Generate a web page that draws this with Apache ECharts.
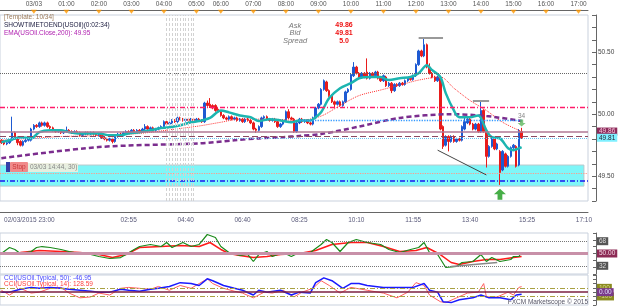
<!DOCTYPE html>
<html>
<head>
<meta charset="utf-8">
<script src="https://cdn.jsdelivr.net/npm/echarts@6/dist/echarts.min.js"></script>
<style>
html,body{margin:0;padding:0;background:#fff;}
#chart{width:625px;height:307px;}
</style>
</head>
<body>
<div id="chart"></div>
<script>
// 5 minute bars from 02/03 23:00 to 17:15 (05:45-05:55 not traded)
var times = [];
(function(){
	var m = 23 * 60;
	while (times.length < 217) {
		var h = Math.floor(m / 60) % 24, mm = m % 60;
		if (!(h === 5 && mm >= 45)) times.push((h < 10 ? '0' : '') + h + ':' + (mm < 10 ? '0' : '') + mm);
		m += 5;
	}
})();

// [open, close, low, high]
var candles = [
	[49.79,49.77,49.76,49.80],[49.78,49.76,49.75,49.79],[49.76,49.77,49.75,49.78],[49.77,49.79,49.76,49.80],[49.79,49.85,49.78,49.98],
	[49.85,49.81,49.80,49.86],[49.81,49.77,49.75,49.82],[49.78,49.75,49.74,49.79],[49.75,49.78,49.74,49.79],[49.78,49.79,49.77,49.80],
	[49.79,49.80,49.78,49.81],[49.79,49.88,49.78,49.89],[49.88,49.91,49.87,49.92],[49.91,49.90,49.89,49.92],[49.90,49.93,49.89,49.94],
	[49.93,49.91,49.90,49.94],[49.91,49.93,49.90,49.94],[49.93,49.90,49.89,49.94],[49.90,49.89,49.88,49.91],[49.89,49.87,49.86,49.90],
	[49.87,49.86,49.85,49.88],[49.86,49.87,49.85,49.88],[49.87,49.85,49.84,49.88],[49.85,49.86,49.84,49.87],[49.86,49.87,49.85,49.90],
	[49.87,49.86,49.85,49.88],[49.86,49.85,49.84,49.87],[49.85,49.86,49.84,49.87],[49.86,49.85,49.84,49.87],[49.85,49.83,49.82,49.86],
	[49.83,49.84,49.82,49.85],[49.84,49.85,49.83,49.86],[49.85,49.84,49.83,49.86],[49.84,49.85,49.83,49.86],[49.85,49.84,49.83,49.86],
	[49.84,49.83,49.82,49.85],[49.83,49.84,49.82,49.85],[49.84,49.81,49.80,49.85],[49.81,49.80,49.79,49.82],[49.80,49.79,49.78,49.81],
	[49.79,49.80,49.78,49.81],[49.80,49.78,49.765,49.81],[49.78,49.82,49.77,49.83],[49.82,49.84,49.81,49.85],[49.84,49.83,49.82,49.85],
	[49.83,49.85,49.82,49.86],[49.85,49.86,49.84,49.87],[49.86,49.85,49.84,49.87],[49.85,49.87,49.84,49.88],[49.87,49.86,49.85,49.88],
	[49.86,49.87,49.85,49.88],[49.87,49.86,49.85,49.88],[49.86,49.88,49.85,49.89],[49.88,49.90,49.87,49.92],[49.90,49.88,49.87,49.91],
	[49.88,49.89,49.87,49.90],[49.89,49.87,49.86,49.90],[49.87,49.88,49.86,49.89],[49.88,49.89,49.87,49.90],[49.89,49.90,49.88,49.91],
	[49.90,49.94,49.89,49.95],[49.94,49.92,49.91,49.95],[49.92,49.93,49.91,49.94],[49.93,49.95,49.92,49.96],[49.95,49.94,49.93,49.96],
	[49.94,49.97,49.93,49.98],[49.97,49.96,49.95,49.98],[49.96,49.95,49.94,49.97],[49.95,49.96,49.94,49.97],[49.96,49.95,49.94,49.97],
	[49.95,49.96,49.94,49.97],[49.96,49.95,49.94,49.97],[49.95,49.96,49.94,49.97],[49.96,49.95,49.94,49.97],[49.95,49.94,49.93,49.96],
	[49.94,50.09,49.93,50.10],[50.09,50.07,50.06,50.11],[50.08,50.06,50.05,50.13],[50.07,50.05,50.04,50.08],[50.07,50.03,50.02,50.08],
	[50.04,50.02,50.01,50.05],[50.02,49.99,49.98,50.03],[49.99,49.97,49.96,50.00],[49.97,49.96,49.95,49.98],[49.96,49.98,49.95,49.99],
	[49.98,49.96,49.95,49.99],[49.96,49.97,49.95,49.98],[49.97,49.95,49.94,49.98],[49.95,49.96,49.94,49.97],[49.96,49.94,49.93,49.97],
	[49.94,49.96,49.93,49.97],[49.96,49.95,49.94,49.97],[49.95,49.93,49.92,49.96],[49.93,49.88,49.87,49.94],[49.88,49.87,49.85,49.89],
	[49.87,49.90,49.86,49.91],[49.90,49.97,49.89,49.98],[49.97,49.98,49.96,49.99],[49.98,49.96,49.95,49.99],[49.96,49.95,49.94,49.97],
	[49.95,49.96,49.94,49.97],[49.96,49.94,49.93,49.97],[49.94,49.90,49.89,49.95],[49.90,49.92,49.89,49.93],[49.92,49.95,49.91,49.96],
	[49.95,50.02,49.94,50.03],[50.02,49.97,49.96,50.04],[49.97,49.96,49.95,49.98],[49.96,49.86,49.85,49.97],[49.86,49.93,49.85,49.94],
	[49.93,49.96,49.92,49.97],[49.96,49.94,49.93,49.97],[49.94,49.95,49.93,49.96],[49.95,49.93,49.92,49.96],[49.93,49.92,49.91,49.94],
	[49.92,49.97,49.91,49.98],[49.97,50.05,49.96,50.06],[50.05,50.08,50.04,50.09],[50.08,50.20,50.07,50.21],[50.20,50.27,50.19,50.28],
	[50.26,50.19,50.18,50.27],[50.19,50.15,50.14,50.20],[50.15,50.10,50.09,50.16],[50.10,50.08,50.05,50.11],[50.08,50.10,50.07,50.11],
	[50.10,50.07,50.06,50.11],[50.07,50.10,50.06,50.11],[50.10,50.18,50.09,50.19],[50.18,50.20,50.17,50.21],[50.20,50.32,50.19,50.33],
	[50.31,50.38,50.30,50.42],[50.38,50.33,50.32,50.39],[50.33,50.30,50.29,50.34],[50.30,50.33,50.29,50.34],[50.33,50.30,50.29,50.34],
	[50.34,50.29,50.28,50.45],[50.29,50.33,50.28,50.34],[50.33,50.31,50.30,50.34],[50.31,50.34,50.30,50.35],[50.34,50.29,50.28,50.35],
	[50.29,50.27,50.26,50.30],[50.27,50.31,50.26,50.32],[50.30,50.23,50.22,50.31],[50.23,50.25,50.22,50.26],[50.25,50.19,50.17,50.26],
	[50.19,50.24,50.18,50.25],[50.24,50.23,50.22,50.25],[50.23,50.25,50.22,50.26],[50.25,50.24,50.23,50.26],[50.24,50.27,50.23,50.28],
	[50.27,50.29,50.26,50.30],[50.29,50.28,50.27,50.30],[50.28,50.31,50.27,50.32],[50.31,50.40,50.30,50.41],[50.40,50.51,50.39,50.52],
	[50.51,50.47,50.46,50.52],[50.47,50.56,50.46,50.61],[50.56,50.38,50.37,50.57],[50.38,50.33,50.32,50.41],[50.33,50.30,50.29,50.34],
	[50.30,50.27,50.26,50.31],[50.27,50.30,50.26,50.31],[50.29,49.88,49.87,50.30],[49.90,49.74,49.72,49.91],[49.75,49.82,49.74,49.83],
	[49.82,49.78,49.70,49.83],[49.78,49.82,49.77,49.83],[49.82,49.78,49.77,49.83],[49.78,49.80,49.77,49.81],[49.80,49.79,49.78,49.81],
	[49.79,49.90,49.78,49.91],[49.88,49.94,49.87,49.97],[49.93,49.96,49.92,49.97],[49.96,49.92,49.91,49.97],[49.92,49.88,49.87,49.93],
	[49.88,49.92,49.87,49.93],[49.92,49.86,49.85,49.93],[49.86,50.03,49.85,50.10],[50.03,49.86,49.85,50.04],[49.86,49.66,49.57,49.87],
	[49.66,49.74,49.65,49.75],[49.74,49.80,49.73,49.81],[49.80,49.72,49.71,49.81],[49.72,49.76,49.71,49.77],[49.70,49.53,49.43,49.71],
	[49.55,49.70,49.54,49.71],[49.68,49.58,49.57,49.69],[49.58,49.66,49.57,49.67],[49.66,49.73,49.65,49.74],[49.73,49.75,49.72,49.76],
	[49.74,49.58,49.57,49.75],[49.59,49.86,49.58,49.88],[49.86,49.81,49.80,49.89]
];

// moving averages, [bar, price]
var fastMA = [[0,49.775],[3,49.79],[7,49.815],[11,49.805],[14,49.855],[18,49.87],[22,49.87],[25,49.855],[29,49.845],[33,49.845],
	[36,49.845],[40,49.83],[44,49.83],[47,49.845],[51,49.855],[55,49.87],[58,49.885],[62,49.895],[66,49.91],[70,49.935],[73,49.945],
	[77,49.97],[81,50.03],[84,50.015],[88,49.99],[92,49.975],[95,49.945],[99,49.96],[103,49.95],[107,49.935],[110,49.95],[114,49.95],
	[116,49.975],[118,50.015],[121,50.13],[125,50.21],[129,50.25],[132,50.29],[136,50.30],[140,50.30],[143,50.275],[147,50.29],
	[151,50.30],[154,50.33],[157,50.395],[159,50.355],[162,50.30],[164,50.17],[167,50.03],[169,49.975],[173,49.975],[176,49.99],
	[177,49.97],[179,49.87],[181,49.815],[184,49.805],[187,49.725],[189,49.71],[191,49.725],[192,49.735]];
var slowMA = [[0,49.79],[11,49.805],[22,49.82],[33,49.825],[51,49.845],[66,49.885],[73,49.905],[81,49.935],[88,49.96],[99,49.96],
	[110,49.95],[118,49.985],[125,50.07],[132,50.15],[140,50.195],[147,50.235],[154,50.275],[162,50.30],[167,50.21],[173,50.11],
	[179,50.03],[185,49.935],[191,49.87],[192,49.865]];
var ema200 = [[0,49.645],[36,49.735],[73,49.765],[86,49.79],[95,49.805],[104,49.815],[110,49.825],[118,49.84],[132,49.90],
	[147,49.97],[166,50.00],[179,49.985],[192,49.945]];

var rsiFast = [[0,50],[3,58.8],[5,55.9],[7,50],[11,52.9],[13,58.8],[15,60.2],[18,58.8],[22,55.9],[25,52.9],[29,50],[33,48.5],
	[36,45.6],[40,42.7],[44,44.1],[46,48.5],[49,55.9],[51,60.2],[55,63.2],[59,60.2],[61,66.1],[63,58.8],[67,66.1],[70,60.2],[73,63.2],
	[76,77.8],[79,73.4],[81,60.2],[84,51.5],[88,47.1],[91,48.5],[93,38.3],[95,48.5],[98,52.9],[100,45.6],[104,51.5],[107,45.6],
	[110,51.5],[114,51.5],[118,63.2],[120,70.5],[122,66.1],[125,52.9],[128,66.1],[131,70.5],[135,66.1],[140,63.2],[143,55.9],
	[147,51.5],[151,55.9],[154,58.8],[156,66.1],[158,51.5],[161,48.5],[164,29.5],[168,31],[170,36.8],[174,38.3],[177,48.5],
	[179,38.3],[181,44.1],[184,38.3],[188,41.2],[189,45.6],[191,45.6],[192,51.5]];
var rsiSlow = [[0,50],[7,51.5],[14,54.4],[22,52.9],[29,51.5],[36,48.5],[41,44.1],[46,48.5],[51,58.8],[59,60.2],[66,61.7],[73,60.2],
	[77,66.1],[81,55.9],[84,50],[88,47.1],[93,44.1],[98,45.6],[103,48.5],[110,50],[116,54.4],[122,63.2],[129,66.1],[135,66.1],
	[141,60.2],[147,52.9],[153,54.4],[157,58.8],[162,48.5],[166,36.8],[169,33.9],[174,38.3],[179,41.2],[184,41.2],[189,44.1],[192,45.6]];
var rsiLevels = [68, 50, 32];

var cci50 = [[0,0],[3,0],[7,67],[11,111],[14,89],[18,111],[22,89],[25,67],[29,44],[33,22],[36,0],[40,0],[44,67],[47,44],[51,22],
	[55,67],[58,89],[62,133],[66,222],[70,200],[73,156],[76,311],[78,267],[82,156],[86,89],[89,44],[93,-67],[95,44],[98,0],[103,44],
	[107,-67],[110,0],[114,-22],[116,222],[119,333],[122,267],[126,89],[129,200],[132,200],[135,156],[141,111],[147,111],[152,111],
	[156,200],[158,44],[161,0],[163,-222],[166,-244],[169,-178],[174,-133],[177,-67],[180,-133],[184,-133],[188,-178],[190,-67],[192,-47]];
var cci14 = [[0,44],[3,-67],[7,89],[11,-22],[14,0],[18,89],[22,111],[25,-22],[29,-133],[33,-111],[36,-22],[40,-67],[44,89],[47,111],
	[51,89],[55,67],[58,133],[62,44],[66,156],[70,89],[73,200],[76,311],[78,200],[82,89],[86,22],[89,-22],[93,-133],[97,0],[100,-22],
	[104,44],[108,-111],[111,0],[115,89],[118,267],[121,156],[125,-22],[129,111],[135,44],[141,-22],[146,-133],[150,0],[153,222],
	[156,156],[158,-67],[162,-222],[164,-244],[168,-133],[172,-22],[176,0],[178,200],[179,-111],[183,-111],[187,0],[189,-67],[191,111],[192,129]];

var askPrice = 49.86, bidPrice = 49.81, spread = '5.0';
var emaLast = 49.95;
var stopBand = [49.59, 49.42];
var stripeBars = [61, 62, 63, 64, 65, 66, 67, 68, 69, 70, 71];

var F = 'Liberation Sans';
var chart = echarts.init(document.getElementById('chart'));

var hourIdx = [];
times.forEach(function(t, i){ if (i > 0 && t.slice(3) === '00') hourIdx.push(i); });

function majorBottom(i){ return i === 0 || (i >= 47 && (i - 5) % 21 === 0); }
function minorBottom(i){ var r = ((i - 5) % 21 + 21) % 21; return r === 0 || r === 5 || r === 10 || r === 16; }

function boxLabel(text, bg, fg){
	return {show: true, position: 'end', distance: 9, formatter: text, backgroundColor: bg, color: fg,
		fontSize: 6.5, fontFamily: F, padding: [1, 2, 0, 2]};
}

var hiddenX = function(grid){
	return {type: 'category', gridIndex: grid, data: times, boundaryGap: true, show: false};
};

var gridStyle = {show: true, borderColor: '#c9d1dd', borderWidth: 1, left: 0, right: 37};

var option = {
	animation: false,
	textStyle: {fontFamily: F},
	grid: [
		Object.assign({top: 15, height: 186}, gridStyle),
		Object.assign({top: 233, height: 41}, gridStyle),
		Object.assign({top: 275, height: 30}, gridStyle),
		{left: 0, right: 37, top: 0, height: 10, show: false}
	],
	xAxis: [
		{type: 'category', gridIndex: 0, data: times, position: 'bottom', offset: 11,
			axisLine: {lineStyle: {color: '#666'}},
			axisTick: {inside: true, length: 3, alignWithLabel: true, interval: function(i){ return minorBottom(i); }, lineStyle: {color: '#666'}},
			axisLabel: {interval: function(i){ return majorBottom(i); }, fontSize: 6.5, color: '#5a5a7a', margin: 5,
				formatter: function(v, i){ return i === 0 ? '{d|02/03/2015 ' + v + '}' : v; },
				rich: {d: {fontSize: 6.5, color: '#5a5a7a', padding: [0, 0, 0, 56]}}},
			splitLine: {show: false}},
		{type: 'category', gridIndex: 0, data: times, position: 'bottom', offset: 11,
			axisLine: {show: false},
			axisTick: {inside: true, length: 6, alignWithLabel: true, interval: function(i){ return majorBottom(i); }, lineStyle: {color: '#666'}},
			axisLabel: {show: false}},
		hiddenX(1),
		hiddenX(2),
		{type: 'category', gridIndex: 3, data: times, position: 'bottom',
			axisLine: {lineStyle: {color: '#666'}},
			axisTick: {inside: false, length: 3, alignWithLabel: true, interval: function(i){ return i % 2 === 0; }, lineStyle: {color: '#777'}},
			axisLabel: {inside: true, margin: 2, fontSize: 6.5, color: '#555',
				interval: function(i, v){ return i > 0 && v.slice(3) === '00'; },
				formatter: function(v){ return v === '00:00' ? '03/03' : v; }}}
	],
	yAxis: [
		{type: 'value', gridIndex: 0, position: 'right', offset: 8, min: 49.3, max: 50.8, interval: 0.1,
			axisLine: {show: true, lineStyle: {color: '#666'}},
			axisTick: {show: true, inside: true, length: 4, lineStyle: {color: '#666'}},
			axisLabel: {fontSize: 6.5, color: '#444', margin: 2,
				formatter: function(v){ return Math.abs(v * 2 - Math.round(v * 2)) < 1e-6 ? v.toFixed(2) : ''; }},
			splitLine: {show: false}},
		{type: 'value', gridIndex: 1, position: 'right', offset: 8, min: 20, max: 80, interval: 10,
			axisLine: {show: true, lineStyle: {color: '#666'}},
			axisTick: {show: true, inside: true, length: 3, lineStyle: {color: '#666'}},
			axisLabel: {show: false}, splitLine: {show: false}},
		{type: 'value', gridIndex: 2, position: 'right', offset: 8, min: -300, max: 400, interval: 100,
			axisLine: {show: true, lineStyle: {color: '#666'}},
			axisTick: {show: true, inside: true, length: 3, lineStyle: {color: '#666'}},
			axisLabel: {show: false}, splitLine: {show: false}},
		{type: 'value', gridIndex: 3, min: 0, max: 1, show: false}
	],
	series: [
		{type: 'candlestick', name: 'USOil', xAxisIndex: 0, yAxisIndex: 0, data: candles, barWidth: 2, z: 2,
			itemStyle: {color: '#1e5ad2', color0: '#e81c1c', borderColor: '#1e5ad2', borderColor0: '#e81c1c', borderWidth: 1},
			markArea: {silent: true, itemStyle: {color: '#7ef6f8', borderColor: '#b8c8cc', borderWidth: 1},
				data: [[{yAxis: stopBand[0]}, {yAxis: stopBand[1], xAxis: 215}]]},
			markLine: {silent: true, symbol: 'none', label: {show: false},
				data: [
					{yAxis: 50.33, lineStyle: {color: '#666', type: 'dotted', width: 1}},
					{yAxis: 50.065, lineStyle: {color: '#ff1a6a', type: [5, 2, 1, 2], width: 1.3}},
					[{coord: [110, emaLast], lineStyle: {color: '#3399ff', type: 'dotted', width: 1.3}}, {coord: [192, emaLast]}],
					{yAxis: 49.82, lineStyle: {color: '#8a4a62', type: [6, 3], width: 1}},
					{yAxis: 49.515, lineStyle: {color: '#ff9a8a', type: 'dotted', width: 1.2}},
					{yAxis: 49.46, lineStyle: {color: '#1a1aee', type: [5, 2, 1, 2], width: 1.5}},
					[{coord: [154, 50.613], lineStyle: {color: '#999', type: 'solid', width: 2}}, {coord: [163, 50.613]}],
					[{coord: [174, 50.105], lineStyle: {color: '#999', type: 'solid', width: 2}}, {coord: [180, 50.105]}],
					[{coord: [161, 49.71], lineStyle: {color: '#444', type: 'solid', width: 1}}, {coord: [179, 49.51]}],
					{yAxis: askPrice, lineStyle: {color: '#b07894', type: 'solid', width: 1.5}, label: boxLabel(askPrice.toFixed(2), '#8c2a5a', '#f6c6dc')},
					{yAxis: bidPrice, lineStyle: {color: '#66c4f0', type: 'dotted', width: 1}, label: boxLabel(bidPrice.toFixed(2), '#7ff0ff', '#223')}
				]}},
		{type: 'line', name: 'fast', xAxisIndex: 0, yAxisIndex: 0, data: fastMA, smooth: 0.3, symbol: 'none', z: 4,
			lineStyle: {color: '#1cb5b0', width: 2.5}},
		{type: 'line', name: 'slow', xAxisIndex: 0, yAxisIndex: 0, data: slowMA, smooth: 0.3, symbol: 'none', z: 3,
			lineStyle: {color: '#ff3030', width: 1, type: 'dotted'}},
		{type: 'line', name: 'EMA200', xAxisIndex: 0, yAxisIndex: 0, data: ema200, smooth: 0.3, symbol: 'none', z: 3,
			lineStyle: {color: '#7b2d8e', width: 2.5, type: [5, 3]},
			markLine: {silent: true, symbol: 'none', label: {show: false},
				lineStyle: {color: '#d2d2d2', type: [3, 2], width: 1},
				data: stripeBars.map(function(i){ return {xAxis: i}; })}},
		{type: 'scatter', xAxisIndex: 0, yAxisIndex: 0, data: [[184, 49.355]], z: 5,
			symbol: 'path://M5,0 L10,5 L7,5 L7,10 L3,10 L3,5 L0,5 Z', symbolSize: [12, 11],
			itemStyle: {color: '#199a19'}},
		{type: 'scatter', xAxisIndex: 0, yAxisIndex: 0, data: [[192, 49.93]], z: 5,
			symbol: 'path://M3,0 L7,0 L7,5 L10,5 L5,10 L0,5 L3,5 Z', symbolSize: [8, 7],
			itemStyle: {color: '#5cb85c'},
			label: {show: true, position: 'top', distance: 0, formatter: '34', fontSize: 6.5, color: '#666'}},
		{type: 'line', name: 'RSI', xAxisIndex: 2, yAxisIndex: 1, data: rsiFast, symbol: 'none', z: 4,
			lineStyle: {color: '#1a8a1a', width: 1.2},
			markLine: {silent: true, symbol: 'none', label: {show: false},
				data: [
					{yAxis: rsiLevels[0], lineStyle: {color: '#777', type: 'dotted', width: 1}, label: boxLabel(String(rsiLevels[0]), '#555', '#ddd')},
					{yAxis: rsiLevels[2], lineStyle: {color: '#777', type: 'dotted', width: 1}, label: boxLabel(String(rsiLevels[2]), '#555', '#ddd')},
					{yAxis: rsiLevels[1], lineStyle: {color: '#c890a8', type: 'solid', width: 3}, label: boxLabel(rsiLevels[1].toFixed(2), '#8c2a55', '#f4d8e4')},
					[{coord: [166, 31], lineStyle: {color: '#888', type: 'solid', width: 1.5}}, {coord: [183, 36.8]}]
				]}},
		{type: 'line', name: 'RSI signal', xAxisIndex: 2, yAxisIndex: 1, data: rsiSlow, symbol: 'none', z: 3,
			lineStyle: {color: '#ff1a1a', width: 1.5}},
		{type: 'line', name: 'CCI50', xAxisIndex: 3, yAxisIndex: 2, data: cci50, symbol: 'none', z: 4,
			lineStyle: {color: '#1a1aff', width: 1.5},
			markLine: {silent: true, symbol: 'none', label: {show: false},
				data: [
					{yAxis: 100, lineStyle: {color: '#a8a040', type: [5, 2, 1, 2], width: 1}, label: boxLabel('100', '#8a8a20', '#d8d890')},
					{yAxis: -100, lineStyle: {color: '#a8a040', type: [5, 2, 1, 2], width: 1}, label: boxLabel('-100', '#8a8a20', '#d8d890')},
					{yAxis: 0, lineStyle: {color: '#7a2040', type: 'solid', width: 1.5}, label: boxLabel('0.00', '#7a3a8a', '#e0e0ff')}
				]}},
		{type: 'line', name: 'CCI14', xAxisIndex: 3, yAxisIndex: 2, data: cci14, symbol: 'none', z: 3,
			lineStyle: {color: '#ff6060', width: 1}},
		{type: 'scatter', xAxisIndex: 4, yAxisIndex: 3, clip: false, silent: true,
			data: hourIdx.map(function(i){ return [i, -0.17]; }),
			symbol: 'triangle', symbolRotate: 180, symbolSize: [6, 4], itemStyle: {color: '#ff9900'}}
	],
	graphic: [
		{type: 'text', z: 100, x: 4, y: 17.5, style: {text: '[Template: 10/34]', fill: '#9a7a5a', font: '6.5px "Liberation Sans"', verticalAlign: 'middle'}},
		{type: 'text', z: 100, x: 4, y: 25, style: {text: 'SHOWTIMETOEND(USOil)(0:02:34)', fill: '#222244', font: '6.5px "Liberation Sans"', verticalAlign: 'middle'}},
		{type: 'text', z: 100, x: 4, y: 33, style: {text: 'EMA(USOil.Close,200): ' + emaLast.toFixed(2), fill: '#b020b0', font: '6.5px "Liberation Sans"', verticalAlign: 'middle'}},
		{type: 'text', z: 100, x: 295, y: 25.5, style: {text: 'Ask', fill: '#777', font: 'italic 7.5px "Liberation Sans"', align: 'center', verticalAlign: 'middle'}},
		{type: 'text', z: 100, x: 295, y: 33, style: {text: 'Bid', fill: '#777', font: 'italic 7.5px "Liberation Sans"', align: 'center', verticalAlign: 'middle'}},
		{type: 'text', z: 100, x: 295, y: 41, style: {text: 'Spread', fill: '#777', font: 'italic 7.5px "Liberation Sans"', align: 'center', verticalAlign: 'middle'}},
		{type: 'text', z: 100, x: 344, y: 25.5, style: {text: askPrice.toFixed(2), fill: '#ee1111', font: 'bold 7px "Liberation Sans"', align: 'center', verticalAlign: 'middle'}},
		{type: 'text', z: 100, x: 344, y: 33, style: {text: bidPrice.toFixed(2), fill: '#ee1111', font: 'bold 7px "Liberation Sans"', align: 'center', verticalAlign: 'middle'}},
		{type: 'text', z: 100, x: 344, y: 41, style: {text: spread, fill: '#ee1111', font: 'bold 7px "Liberation Sans"', align: 'center', verticalAlign: 'middle'}},
		{type: 'rect', z: 100, shape: {x: 28, y: 163, width: 50, height: 9}, style: {fill: 'rgba(236,238,222,0.95)'}},
		{type: 'rect', z: 101, shape: {x: 6, y: 162, width: 4, height: 10}, style: {fill: '#3340a8'}},
		{type: 'rect', z: 101, shape: {x: 10, y: 162, width: 18, height: 10, r: 1}, style: {fill: '#f08a8a'}},
		{type: 'text', z: 102, x: 19, y: 167, style: {text: 'Stop', fill: '#c83838', font: '6.5px "Liberation Sans"', align: 'center', verticalAlign: 'middle'}},
		{type: 'text', z: 102, x: 30, y: 167.5, style: {text: '03/03 14:44, 30)', fill: '#888', font: '6.5px "Liberation Sans"', verticalAlign: 'middle'}},
		{type: 'text', z: 100, x: 4, y: 278, style: {text: 'CCI(USOil.Typical, 50): -46.95', fill: '#4a4aff', font: '6.5px "Liberation Sans"', verticalAlign: 'middle'}},
		{type: 'text', z: 100, x: 4, y: 284.5, style: {text: 'CCI(USOil.Typical, 14): 128.59', fill: '#ff4040', font: '6.5px "Liberation Sans"', verticalAlign: 'middle'}},
		{type: 'text', z: 100, x: 588, y: 302.5, style: {text: 'FXCM Marketscope \u00a9 2015', fill: '#556', font: '6.5px "Liberation Sans"', align: 'right', verticalAlign: 'middle'}}
	]
};

chart.setOption(option);
</script>
</body>
</html>
